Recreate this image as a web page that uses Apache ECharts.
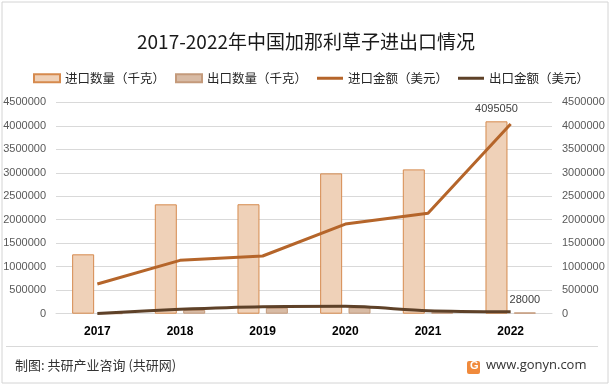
<!DOCTYPE html>
<html>
<head>
<meta charset="utf-8">
<script src="https://cdn.jsdelivr.net/npm/echarts@6/dist/echarts.min.js"></script>
<style>
html,body{margin:0;padding:0;background:#fff;}
#chart{width:612px;height:386px;}
</style>
</head>
<body>
<div id="chart"></div>
<script>
var years = ['2017', '2018', '2019', '2020', '2021', '2022'];
var importQty = [1264000, 2328000, 2330000, 2987000, 3072000, 4095050];
var exportQty = [3000, 79000, 125000, 132000, 30000, 28000];
var importAmt = [632000, 1136000, 1228000, 1908000, 2136000, 4036000];
var exportAmt = [5000, 94000, 149000, 157000, 64000, 42000];
var yTicks = [0, 500000, 1000000, 1500000, 2000000, 2500000, 3000000, 3500000, 4000000, 4500000];

var CJK = '"Noto Sans CJK SC", "Noto Sans", sans-serif';
var NUM = '"Liberation Sans", Arial, sans-serif';
var LINE_ICON = 'path://M0,0 M0,2.5 L26,2.5 L26,5.5 L0,5.5 Z M26,8';

function lastLabel(arr) {
  return arr.map(function (v, i) {
    if (i === arr.length - 1) {
      return { value: v, label: { show: true, position: 'top', distance: 7, color: '#404040', fontSize: 11, fontFamily: NUM } };
    }
    return v;
  });
}
function plain(v) { return String(v); }

var chart = echarts.init(document.getElementById('chart'), null, { renderer: 'canvas' });
chart.setOption({
  backgroundColor: '#ffffff',
  animation: false,
  title: {
    text: '2017-2022年中国加那利草子进出口情况',
    left: 'center',
    top: 27,
    textStyle: { fontSize: 19, fontWeight: 'normal', color: '#1a1a1a', fontFamily: CJK }
  },
  legend: {
    left: 28,
    top: 67,
    itemWidth: 26,
    itemHeight: 8,
    itemGap: 10,
    textStyle: { fontSize: 12.5, color: '#262626', fontFamily: CJK },
    data: [
      { name: '进口数量（千克）', icon: 'rect' },
      { name: '出口数量（千克）', icon: 'rect' },
      { name: '进口金额（美元）', icon: LINE_ICON },
      { name: '出口金额（美元）', icon: LINE_ICON }
    ]
  },
  grid: { left: 56, right: 60, top: 102.3, bottom: 72.3, containLabel: false },
  xAxis: {
    type: 'category',
    data: years,
    axisLine: { show: true, lineStyle: { color: '#d9d9d9' } },
    axisTick: { show: false },
    axisLabel: { fontWeight: 'bold', fontSize: 12, color: '#000', fontFamily: NUM, margin: 12 }
  },
  yAxis: [
    {
      type: 'value', min: yTicks[0], max: yTicks[yTicks.length - 1], interval: yTicks[1] - yTicks[0],
      axisLine: { show: false }, axisTick: { show: false },
      splitLine: { lineStyle: { color: '#d9d9d9', width: 1 } },
      axisLabel: { fontSize: 11, color: '#595959', fontFamily: NUM, margin: 10, formatter: plain }
    },
    {
      type: 'value', min: yTicks[0], max: yTicks[yTicks.length - 1], interval: yTicks[1] - yTicks[0],
      axisLine: { show: false }, axisTick: { show: false },
      splitLine: { show: false },
      axisLabel: { fontSize: 11, color: '#595959', fontFamily: NUM, margin: 10, formatter: plain }
    }
  ],
  series: [
    {
      name: '进口数量（千克）', type: 'bar', yAxisIndex: 0,
      barWidth: 22, barGap: '29%',
      itemStyle: { color: '#EFD1B8', borderColor: '#D68A4E', borderWidth: 1 },
      data: lastLabel(importQty)
    },
    {
      name: '出口数量（千克）', type: 'bar', yAxisIndex: 0,
      barWidth: 22, barGap: '29%',
      itemStyle: { color: '#D8BBA5', borderColor: '#C49A7B', borderWidth: 1 },
      data: lastLabel(exportQty)
    },
    {
      name: '进口金额（美元）', type: 'line', yAxisIndex: 1,
      symbol: 'none', smooth: false,
      lineStyle: { color: '#B5652A', width: 3 },
      itemStyle: { color: '#B5652A' },
      data: importAmt
    },
    {
      name: '出口金额（美元）', type: 'line', yAxisIndex: 1,
      symbol: 'none', smooth: 0.3,
      lineStyle: { color: '#5E4128', width: 3 },
      itemStyle: { color: '#5E4128' },
      data: exportAmt
    }
  ],
  graphic: [
    { type: 'rect', shape: { x: 2, y: 2, width: 606, height: 381 }, style: { fill: 'none', stroke: '#d4d4d4', lineWidth: 1 }, silent: true },
    { type: 'line', shape: { x1: 6, y1: 346.5, x2: 598, y2: 346.5 }, style: { stroke: '#d9d9d9', lineWidth: 1 } },
    { type: 'text', left: 15, top: 359, style: { text: '制图: 共研产业咨询 (共研网)', fontSize: 13, fill: '#333', fontFamily: CJK } },
    { type: 'rect', shape: { x: 467, y: 361, width: 13, height: 13, r: 2 }, style: { fill: '#F08A3C' } },
    { type: 'text', left: 470, top: 360, style: { text: 'G', fontSize: 11, fontWeight: 'bold', fill: '#fff', fontFamily: NUM } },
    { type: 'text', left: 486, top: 359, style: { text: 'www.gonyn.com', fontSize: 13, fill: '#333', fontFamily: '"Open Sans", "Liberation Sans", sans-serif' } }
  ]
});
</script>
</body>
</html>
